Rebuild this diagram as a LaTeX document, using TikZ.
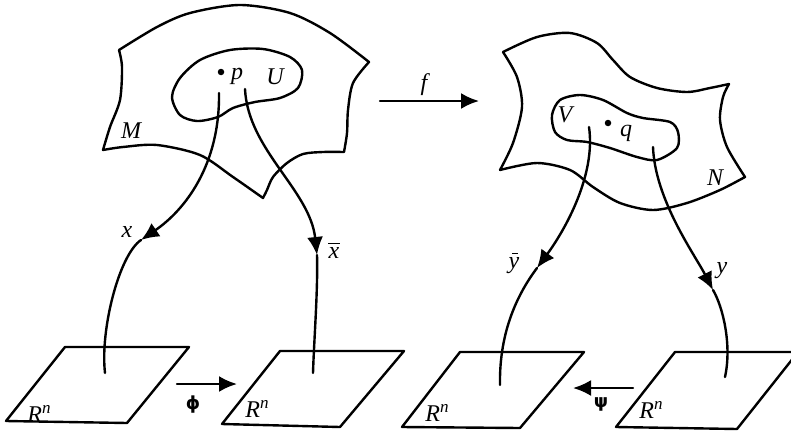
\documentclass[tikz,border=0pt]{standalone}
\usepackage{fontspec}
\setmainfont{Liberation Serif}
\newfontfamily\greekfont{DejaVu Sans}
\usetikzlibrary{arrows.meta}

\tikzset{
  outline/.style={line width=2.4pt, line cap=round, line join=round},
  maparrow/.style={outline, -{Latex[length=18pt,width=16pt]}},
  lbl/.style={inner sep=0pt, font=\fontsize{24}{26}\selectfont\itshape},
  greek/.style={inner sep=0pt, font=\fontsize{18}{20}\selectfont\greekfont\bfseries},
  pt/.style={circle, fill, inner sep=0pt, minimum size=6.5pt},
  barline/.style={line width=1.1pt},
}
\newcommand{\Rn}{R\raisebox{0.4em}{\fontsize{17}{17}\selectfont\itshape n}}

\begin{document}
\begin{tikzpicture}[x=1pt, y=-1pt]
\clip (0,0) rectangle (791,431);

% ---------- manifold M with chart domain U ----------
\draw[outline]
  plot[smooth] coordinates {(119,50) (157,27) (190,13) (240,5) (290,13) (330,33) (369,62)}
  -- plot[smooth] coordinates {(369,62) (353,83) (348,110) (347,133) (344,152)}
  -- plot[smooth] coordinates {(344,152) (323,152) (303,154) (287,163) (273,177) (267,190) (263,198)}
  -- plot[smooth] coordinates {(263,198) (233,177) (200,155) (157,145) (123,147) (103,150)}
  -- plot[smooth] coordinates {(103,150) (110,127) (120,100) (122,67) (119,50)};
\draw[outline] plot[smooth cycle] coordinates {(172,97) (180,78) (200,60) (230,50) (263,49) (290,57) (302,70) (298,88) (280,98) (255,102) (233,108) (218,117) (197,121) (180,115)};

% ---------- manifold N with chart domain V ----------
\draw[outline]
  plot[smooth] coordinates {(503,52) (537,37) (570,33) (597,43) (613,60) (630,77) (657,88) (687,92) (710,88) (729,84)}
  -- plot[smooth] coordinates {(729,84) (723,97) (720,120) (727,147) (745,177)}
  -- plot[smooth] coordinates {(745,177) (720,190) (687,203) (653,210) (620,203) (593,187) (570,170) (537,163) (500,170)}
  -- plot[smooth] coordinates {(500,170) (513,143) (522,107) (517,77) (503,52)};
\draw[outline] plot[smooth cycle] coordinates {(552,115) (560,100) (580,95) (603,100) (627,113) (643,118) (670,122) (678,132) (677,148) (657,160) (637,157) (610,148) (587,142) (567,140) (555,132)};

% ---------- the four copies of R^n ----------
\coordinate (a1) at (65,347);  \coordinate (a2) at (189,347);
\coordinate (a3) at (127,423); \coordinate (a4) at (6,421);
\coordinate (b1) at (280,351); \coordinate (b2) at (404,351);
\coordinate (b3) at (340,427); \coordinate (b4) at (222,424);
\coordinate (c1) at (460,352); \coordinate (c2) at (584,352);
\coordinate (c3) at (520,428); \coordinate (c4) at (402,427);
\coordinate (d1) at (675,352); \coordinate (d2) at (798,352);
\coordinate (d3) at (737,429); \coordinate (d4) at (616,427);
\draw[outline] (a1) -- (a2) -- (a3) -- (a4) -- cycle;
\draw[outline] (b1) -- (b2) -- (b3) -- (b4) -- cycle;
\draw[outline] (c1) -- (c2) -- (c3) -- (c4) -- cycle;
\draw[outline] (d1) -- (d2) -- (d3) -- (d4) -- cycle;

% ---------- chart maps ----------
\coordinate (xs) at (219,93);  \coordinate (xm) at (141,240);  \coordinate (xe) at (105,373);
\coordinate (xbs) at (245,89); \coordinate (xbm) at (317,255); \coordinate (xbe) at (313,373);
\coordinate (ybs) at (589,127); \coordinate (ybm) at (537,268); \coordinate (ybe) at (500,385);
\coordinate (ys) at (653,147); \coordinate (ym) at (713,290);  \coordinate (ye) at (725,377);

\draw[maparrow] (xs) .. controls (220,165) and (185,210) .. (xm);
\draw[outline]  (xm) .. controls (119,255) and (100,330) .. (xe);
\draw[maparrow] (xbs) .. controls (248,150) and (310,190) .. (xbm);
\draw[outline]  (xbm) .. controls (318,290) and (314,340) .. (xbe);
\draw[maparrow] (ybs) .. controls (596,175) and (565,230) .. (ybm);
\draw[outline]  (ybm) .. controls (519,292) and (499,330) .. (ybe);
\draw[maparrow] (ys) .. controls (655,200) and (695,255) .. (ym);
\draw[outline]  (ym) .. controls (723,307) and (732,345) .. (ye);

% ---------- f, phi, psi ----------
\coordinate (fs) at (380,101);  \coordinate (fe) at (479,101);
\coordinate (phs) at (177,384); \coordinate (phe) at (237,384);
\coordinate (pss) at (633,388); \coordinate (pse) at (573,388);
\draw[maparrow] (fs) -- (fe);
\draw[maparrow] (phs) -- (phe);
\draw[maparrow] (pss) -- (pse);

% ---------- points and labels ----------
\node[pt] (p) at (221,72) {};
\node[pt] (q) at (608,123) {};
\node[lbl] (lp) at (237,76) {p};
\node[lbl] (lU) at (275,77) {U};
\node[lbl] (lM) at (131,131) {M};
\node[lbl] (lq) at (626,133) {q};
\node[lbl] (lV) at (565,115) {V};
\node[lbl] (lN) at (715,178) {N};
\node[lbl] (lf) at (424,85) {f};
\node[lbl] (lx) at (127,232) {x};
\node[lbl] (lxb) at (334,253) {x};
\draw[barline] ([xshift=-6pt,yshift=4pt]lxb.north) -- ([xshift=6pt,yshift=4pt]lxb.north);
\node[lbl] (lyb) at (514,266) {y};
\draw[barline] ([xshift=-2pt,yshift=4pt]lyb.north) -- ([xshift=4pt,yshift=4pt]lyb.north);
\node[lbl] (ly) at (722,271) {y};
\node[lbl] (r1) at (39,414) {\Rn};
\node[lbl] (r2) at (257,409) {\Rn};
\node[lbl] (r3) at (437,413) {\Rn};
\node[lbl] (r4) at (651,410) {\Rn};
\node[greek] (lphi) at (193,405) {ϕ};
\node[greek] (lpsi) at (601,404) {ψ};
\end{tikzpicture}
\end{document}
